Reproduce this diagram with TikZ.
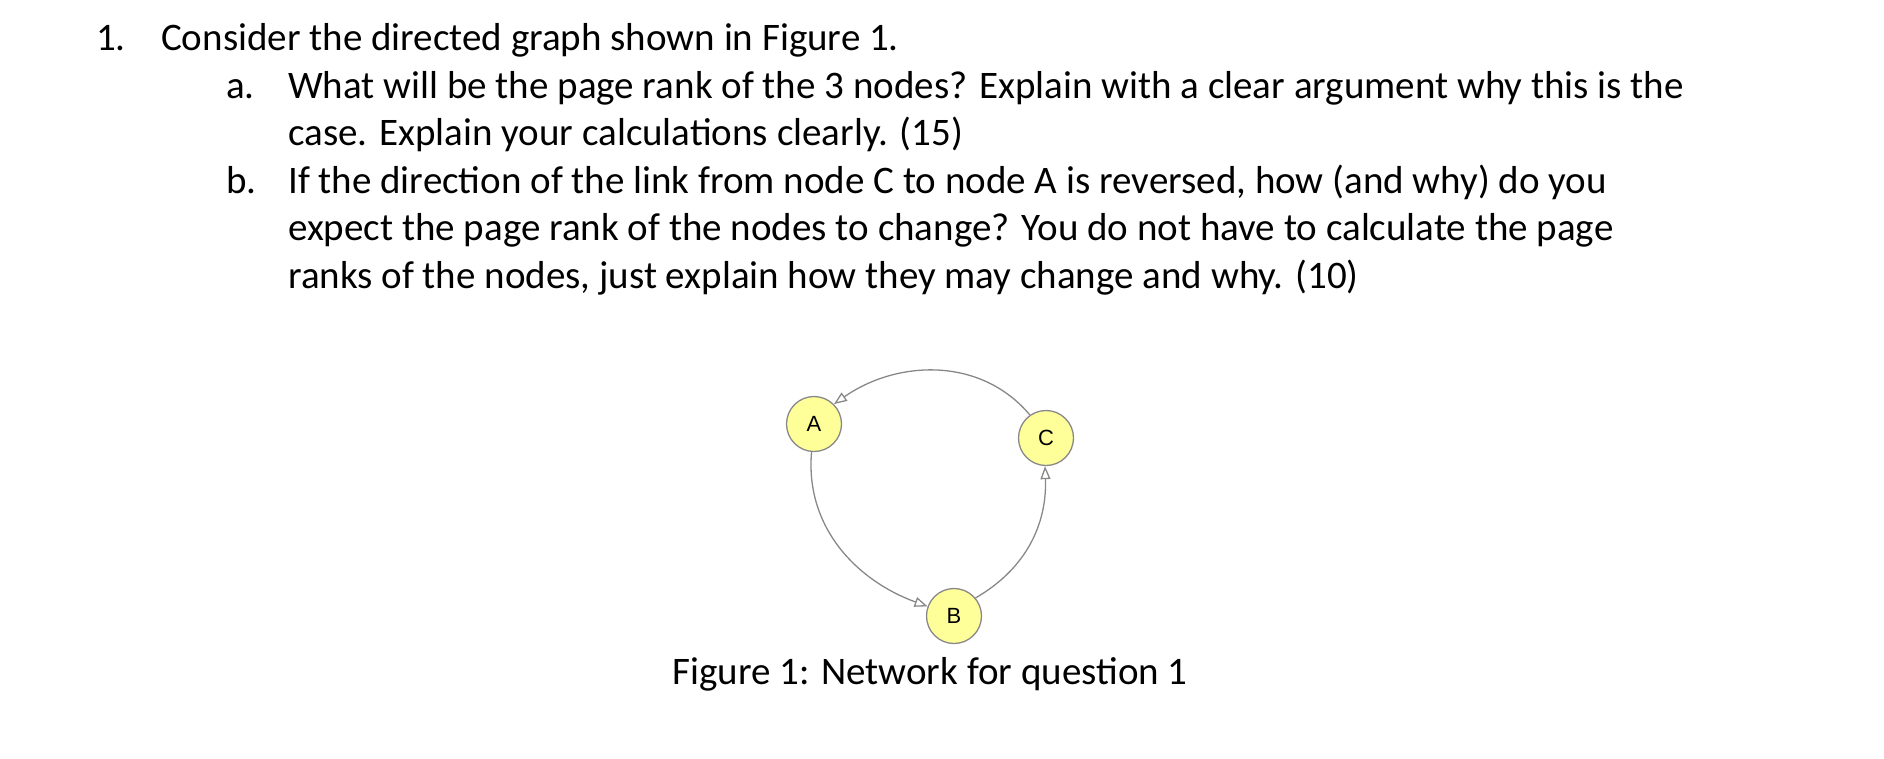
\documentclass[tikz,border=0pt]{standalone}
\usepackage{fontspec}
\setmainfont{Carlito}
\newfontfamily\nodefont{Liberation Sans}
\usetikzlibrary{arrows.meta}
\definecolor{nodeyellow}{HTML}{FFFF99}
\definecolor{edgegray}{HTML}{888888}
\begin{document}
\begin{tikzpicture}[x=1pt,y=-1pt,
  txt/.style={anchor=base west,inner sep=0pt,font=\fontsize{39}{47}\selectfont},
  vert/.style={circle,draw=edgegray,line width=1.3pt,fill=nodeyellow,minimum size=55pt,inner sep=0pt,font=\nodefont\fontsize{22}{24}\selectfont},
  edge/.style={draw=edgegray,line width=1.3pt,-{Triangle[open,length=13pt,width=10pt]}}]
\useasboundingbox (0,0) rectangle (1884,758);
\node[txt] (n1) at (96,50) {1.};
\node[txt] (l1) at (161,50) {Consider the directed graph shown in Figure 1.};
\node[txt] (na) at (226,98) {a.};
\node[txt] (l2) at (288,98) {What will be the page rank of the 3 nodes? Explain with a clear argument why this is the};
\node[txt] (l3) at (288,145) {case. Explain your calculations clearly. (15)};
\node[txt] (nb) at (226,193) {b.};
\node[txt] (l4) at (288,193) {If the direction of the link from node C to node A is reversed, how (and why) do you};
\node[txt] (l5) at (288,240) {expect the page rank of the nodes to change? You do not have to calculate the page};
\node[txt] (l6) at (288,288) {ranks of the nodes, just explain how they may change and why. (10)};
\node[vert] (A) at (814,424) {A};
\node[vert] (C) at (1046,438) {C};
\node[vert] (B) at (954,616) {B};
\node[txt,anchor=base] (cap) at (930,684) {Figure 1: Network for question 1};
\draw[edge] (A.265) to[out=-95,in=160] (B.160);
\draw[edge] (B.40) to[out=30,in=-88] (C.268);
\draw[edge] (C.125) to[out=130,in=35] (A.45);
\end{tikzpicture}
\end{document}
